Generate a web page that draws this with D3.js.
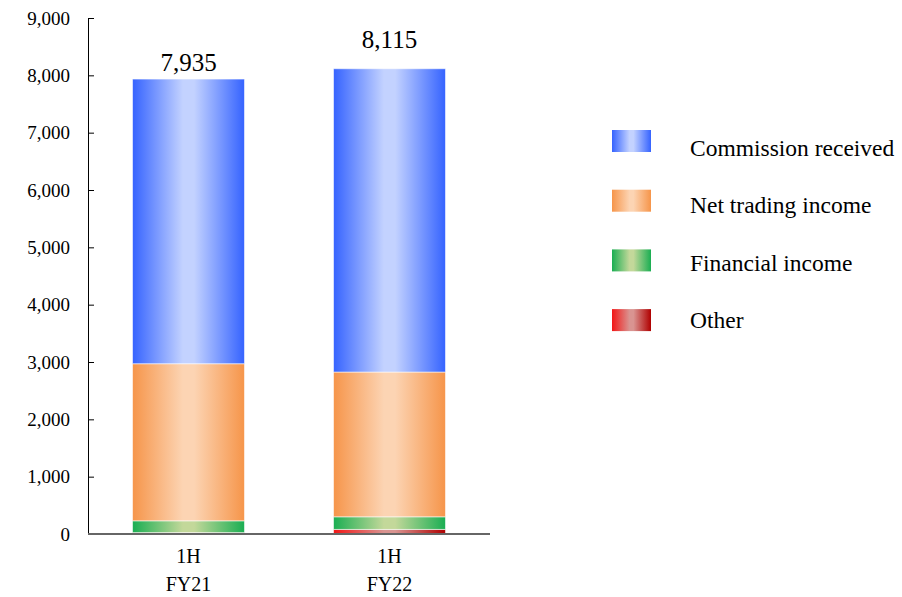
<!DOCTYPE html>
<html>
<head>
<meta charset="utf-8">
<script src="https://cdn.jsdelivr.net/npm/d3@7/dist/d3.min.js"></script>
<style>
  html, body { margin: 0; padding: 0; background: #fff; }
  svg text { font-family: "Liberation Serif", "Times New Roman", serif; fill: #000; }
</style>
</head>
<body>
<svg id="chart" width="902" height="597"></svg>
<script>
// Revenue breakdown by half-year (stacked, bottom to top)
const periods = ["1H FY21", "1H FY22"];
const periodLines = [["1H", "FY21"], ["1H", "FY22"]];
const seriesNames = ["Other", "Financial income", "Net trading income", "Commission received"];
const other = [25, 80];
const financialIncome = [205, 220];
const netTradingIncome = [2740, 2525];
const commissionReceived = [4965, 5290];
const totals = [7935, 8115];
const yTicks = [0, 1000, 2000, 3000, 4000, 5000, 6000, 7000, 8000, 9000];
const legendOrder = ["Commission received", "Net trading income", "Financial income", "Other"];

// Gradient colours per series: left edge, centre, right edge
const palette = {
  "Commission received": ["#3563ff", "#c3d2ff", "#3563ff"],
  "Net trading income": ["#f6954a", "#fcd4b3", "#f6954a"],
  "Financial income": ["#1aae52", "#c3d89a", "#1aae52"],
  "Other": ["#f21616", "#d99491", "#b00000"]
};
// Gap between each total label and its bar top
const totalLabelGap = [8, 21];

const rows = periods.map((p, i) => ({
  period: p,
  "Other": other[i],
  "Financial income": financialIncome[i],
  "Net trading income": netTradingIncome[i],
  "Commission received": commissionReceived[i]
}));

const svg = d3.select("#chart");
const plot = { left: 88, top: 18, bottom: 534, right: 490 };

const y = d3.scaleLinear().domain([0, 9000]).range([plot.bottom, plot.top]);
const x = d3.scaleBand().domain(periods).range([plot.left, plot.right])
  .paddingInner(0.443).paddingOuter(0.2215);

// Horizontal gradients for bar fills
const defs = svg.append("defs");
seriesNames.forEach((name, k) => {
  const c = palette[name];
  const g = defs.append("linearGradient").attr("id", "grad" + k)
    .attr("x1", "0%").attr("x2", "100%").attr("y1", "0%").attr("y2", "0%");
  g.append("stop").attr("offset", "0%").attr("stop-color", c[0]);
  g.append("stop").attr("offset", "45%").attr("stop-color", c[1]);
  g.append("stop").attr("offset", "55%").attr("stop-color", c[1]);
  g.append("stop").attr("offset", "100%").attr("stop-color", c[2]);
});

const layers = d3.stack().keys(seriesNames)(rows);

svg.append("g").selectAll("g").data(layers).join("g")
  .attr("fill", (d, k) => `url(#grad${k})`)
  .selectAll("rect").data(d => d).join("rect")
  .attr("x", d => x(d.data.period))
  .attr("width", x.bandwidth())
  .attr("y", d => y(d[1]))
  .attr("height", d => y(d[0]) - y(d[1]))
  .attr("stroke", "rgba(255,255,255,0.55)")
  .attr("stroke-width", 1);

// Y axis with inward ticks
const yAxis = svg.append("g").attr("transform", `translate(${plot.left},0)`)
  .call(d3.axisRight(y).tickValues(yTicks).tickSize(6).tickFormat(d3.format(",")));
yAxis.attr("font-family", null).attr("font-size", null);
yAxis.select(".domain").attr("stroke", "#000");
yAxis.selectAll(".tick line").attr("stroke", "#000");
yAxis.selectAll(".tick text")
  .attr("x", -18).attr("text-anchor", "end")
  .style("font-size", "19px");

// X axis baseline
svg.append("line")
  .attr("x1", plot.left).attr("x2", plot.right)
  .attr("y1", y(0)).attr("y2", y(0))
  .attr("stroke", "#666").attr("stroke-width", 2);

// Category labels
svg.append("g").selectAll("text").data(periods).join("text")
  .attr("text-anchor", "middle")
  .style("font-size", "20px")
  .each(function (d, i) {
    const t = d3.select(this);
    periodLines[i].forEach((line, j) => {
      t.append("tspan").attr("x", x(d) + x.bandwidth() / 2)
        .attr("y", 563 + j * 28).text(line);
    });
  });

// Total labels
svg.append("g").selectAll("text").data(totals).join("text")
  .attr("x", (d, i) => x(periods[i]) + x.bandwidth() / 2)
  .attr("y", (d, i) => y(d) - totalLabelGap[i])
  .attr("text-anchor", "middle")
  .style("font-size", "25px")
  .text(d => d3.format(",")(d));

// Legend
const legend = svg.append("g");
legendOrder.forEach((name, i) => {
  const k = seriesNames.indexOf(name);
  legend.append("rect").attr("x", 612).attr("y", 130 + i * 59.7)
    .attr("width", 39).attr("height", 22)
    .attr("fill", `url(#grad${k})`);
  legend.append("text").attr("x", 690).attr("y", 156 + i * 57.3)
    .style("font-size", "23.5px").text(name);
});
</script>
</body>
</html>
